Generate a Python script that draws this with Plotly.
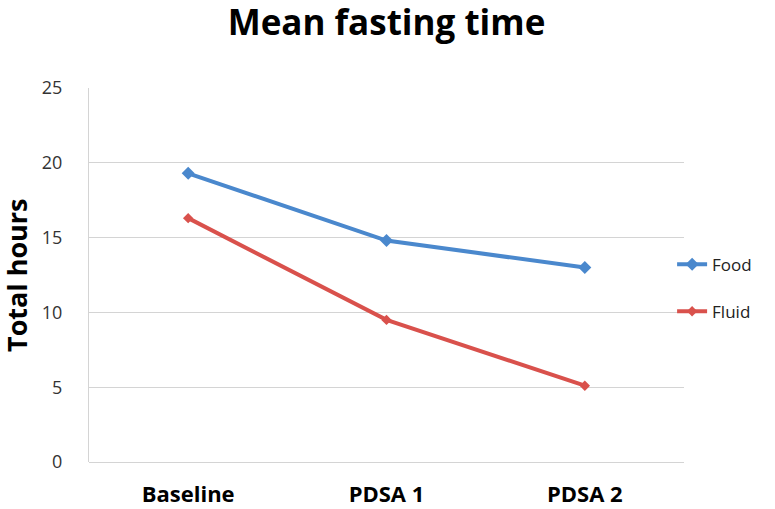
import plotly.graph_objects as go

categories = ["Baseline", "PDSA 1", "PDSA 2"]
food = [19.3, 14.8, 13.0]
fluid = [16.3, 9.5, 5.1]
y_ticks = [0, 5, 10, 15, 20, 25]

FONT = "'Open Sans', sans-serif"

W, H = 775, 509
L, R, T, B = 89, 91, 88, 47

fig = go.Figure()
fig.add_trace(go.Scatter(
    x=categories, y=food, name="Food", mode="lines+markers", legendgroup="a",
    line=dict(color="#4A88CD", width=4),
    marker=dict(symbol="diamond", size=10, color="#4A88CD"),
))
fig.add_trace(go.Scatter(
    x=categories, y=fluid, name="Fluid", mode="lines+markers", legendgroup="b",
    line=dict(color="#D9514C", width=4),
    marker=dict(symbol="diamond", size=8, color="#D9514C"),
))

fig.update_layout(
    width=W, height=H,
    margin=dict(l=L, r=R, t=T, b=B, autoexpand=False),
    paper_bgcolor="white", plot_bgcolor="white",
    font=dict(family=FONT, color="#222222"),
    title=dict(text="<b>Mean fasting time</b>", x=0.5, xanchor="center",
               y=1 - 23 / H, yanchor="middle", xref="paper",
               font=dict(size=35, family=FONT, color="#000000")),
    legend=dict(x=0.98, y=0.465, xanchor="left", yanchor="middle",
                font=dict(size=17, family=FONT, color="#222222"),
                tracegroupgap=22, itemwidth=30, bgcolor="rgba(0,0,0,0)"),
    showlegend=True,
    annotations=[dict(text="<b>Total hours</b>", x=(16 - L) / (W - L - R),
                      y=0.5, xref="paper", yref="paper", showarrow=False,
                      textangle=-90, xanchor="center", yanchor="middle",
                      font=dict(size=27, family=FONT, color="#000000"))],
)
fig.update_xaxes(
    type="category", range=[-0.5, 2.5], automargin=False,
    showgrid=False, showline=False, zeroline=False,
    ticks="", ticklabelstandoff=17,
    tickfont=dict(size=22, family=FONT, color="#000000"),
    tickvals=categories, ticktext=["<b>%s</b>" % c for c in categories],
)
fig.update_yaxes(
    range=[0, 25], tickvals=y_ticks, automargin=False,
    showgrid=True, gridcolor="#D4D4D4", gridwidth=1.2,
    showline=True, linecolor="#D4D4D4", linewidth=1.2,
    zeroline=True, zerolinecolor="#D4D4D4", zerolinewidth=1.2,
    ticks="", ticklabelstandoff=22,
    tickfont=dict(size=18, family=FONT, color="#333333"),
)

# remove the default 8px page margin so the figure fills the window exactly
fig.write_html("out.html", config={"displayModeBar": False},
               post_script="document.body.style.margin='0';")
